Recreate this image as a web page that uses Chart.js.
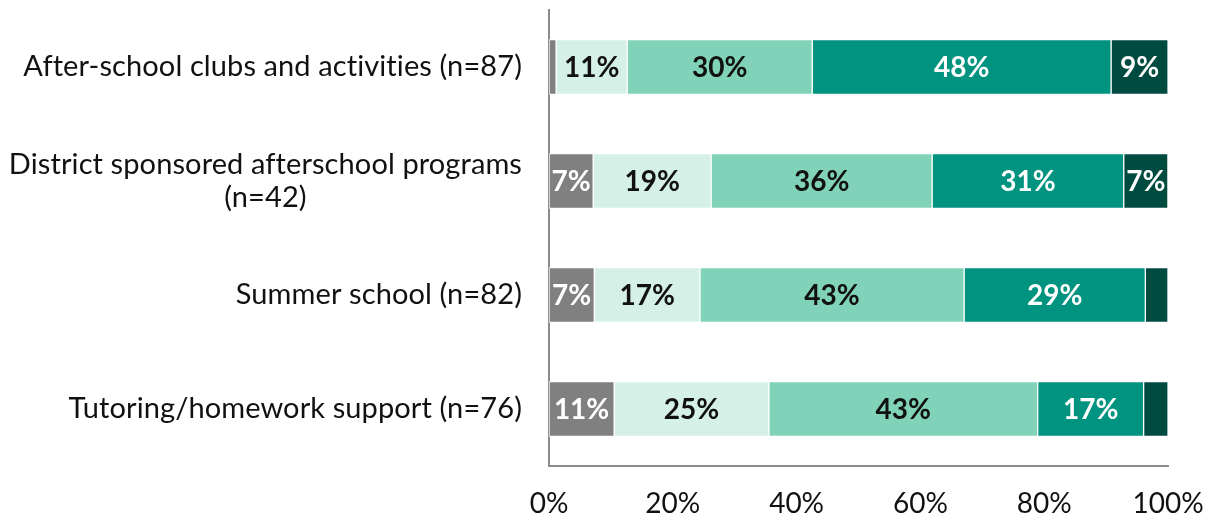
<!DOCTYPE html>
<html>
<head>
<meta charset="utf-8">
<script src="https://cdn.jsdelivr.net/npm/chart.js@4/dist/chart.umd.min.js"></script>
<style>
  html, body { margin: 0; padding: 0; background: #fff; }
  #wrap { width: 1215px; height: 519px; }
</style>
</head>
<body>
<div id="wrap"><canvas id="chart" width="1215" height="519"></canvas></div>
<script>
// rows, top to bottom
const categories = [
  ['After-school clubs and activities (n=87)'],
  ['District sponsored afterschool programs', '(n=42)'],
  ['Summer school (n=82)'],
  ['Tutoring/homework support (n=76)']
];

// share of respondents per rating level (percent)
const level1 = [1.15, 7.14, 7.32, 10.53];
const level2 = [11.49, 19.05, 17.07, 25.00];
const level3 = [29.89, 35.71, 42.68, 43.42];
const level4 = [48.28, 30.95, 29.27, 17.11];
const level5 = [9.20, 7.14, 3.66, 3.95];

const xTicks = [0, 20, 40, 60, 80, 100];

const colors = ['#808080', '#d5f0e6', '#80d3b8', '#00937f', '#004b3f'];
const labelColors = ['#ffffff', '#111111', '#111111', '#ffffff', '#ffffff'];

const FONT = 'Lato, "Noto Sans", sans-serif';

// values inside the segments
const segmentLabels = {
  id: 'segmentLabels',
  afterDatasetsDraw(chart) {
    const ctx = chart.ctx;
    ctx.save();
    ctx.font = 'bold 28px ' + FONT;
    ctx.textAlign = 'center';
    ctx.textBaseline = 'middle';
    chart.data.datasets.forEach((ds, di) => {
      const meta = chart.getDatasetMeta(di);
      meta.data.forEach((bar, i) => {
        const v = ds.data[i];
        if (v < 5) return;
        ctx.fillStyle = labelColors[di];
        ctx.fillText(Math.round(v) + '%', (bar.x + bar.base) / 2, bar.y + 1);
      });
    });
    ctx.restore();
  }
};

// category labels, right aligned, extra lines centred under the first
const categoryLabels = {
  id: 'categoryLabels',
  afterDraw(chart) {
    const ctx = chart.ctx;
    const yScale = chart.scales.y;
    const right = chart.chartArea.left - 27;
    const lineH = 33;
    ctx.save();
    ctx.font = '29px ' + FONT;
    ctx.letterSpacing = '0.1px';
    ctx.fillStyle = '#111111';
    ctx.textBaseline = 'middle';
    categories.forEach((lines, i) => {
      const yc = yScale.getPixelForValue(i);
      const w = Math.max(...lines.map(l => ctx.measureText(l).width));
      const cx = right - w / 2;
      const top = yc - (lines.length - 1) * lineH / 2;
      lines.forEach((l, k) => {
        ctx.textAlign = lines.length > 1 ? 'center' : 'right';
        ctx.fillText(l, lines.length > 1 ? cx : right, top + k * lineH);
      });
    });
    ctx.restore();
  }
};

const datasets = [level1, level2, level3, level4, level5].map((d, i) => ({
  label: 'Level ' + (i + 1),
  data: d,
  backgroundColor: colors[i],
  borderColor: '#ffffff',
  borderWidth: 1,
  borderSkipped: false,
  barThickness: 55
}));

new Chart(document.getElementById('chart'), {
  type: 'bar',
  data: { labels: categories.map(c => c.join(' ')), datasets },
  options: {
    indexAxis: 'y',
    responsive: false,
    animation: false,
    layout: { padding: { top: 10, right: 47, left: 0, bottom: 0 } },
    plugins: { legend: { display: false }, tooltip: { enabled: false } },
    scales: {
      x: {
        stacked: true,
        min: 0,
        max: 100,
        afterBuildTicks: scale => { scale.ticks = xTicks.map(v => ({ value: v })); },
        afterFit: scale => {
          scale.height = 53;
          scale.paddingLeft = 0;
          scale.paddingRight = 0;
        },
        grid: { display: false, drawTicks: false },
        border: { display: true, color: '#8c8c8c', width: 2 },
        ticks: {
          padding: 21,
          color: '#111111',
          font: { family: FONT, size: 28 },
          maxRotation: 0,
          callback: v => v + '%'
        }
      },
      y: {
        stacked: true,
        afterFit: scale => { scale.width = 549; },
        grid: { display: false, drawTicks: false },
        border: { display: true, color: '#8c8c8c', width: 2 },
        ticks: { display: false }
      }
    }
  },
  plugins: [segmentLabels, categoryLabels]
});
</script>
</body>
</html>
